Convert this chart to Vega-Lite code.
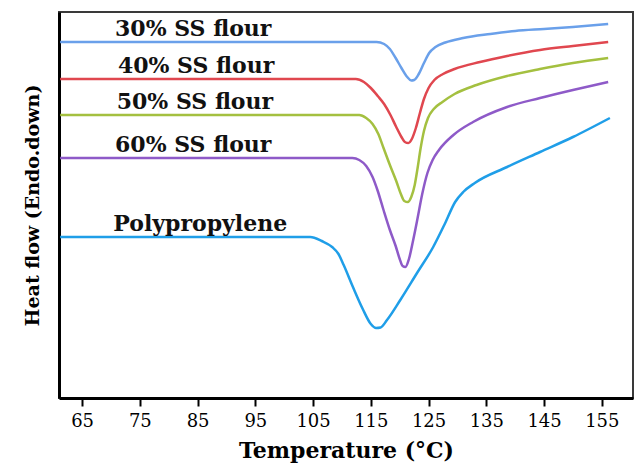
{
  "$schema": "https://vega.github.io/schema/vega-lite/v6.json",
  "width": 574,
  "height": 386,
  "autosize": "none",
  "padding": {"left": 59, "top": 12, "right": 4, "bottom": 77},
  "background": "white",
  "config": {"view": {"stroke": "#3a3a3a", "strokeWidth": 2}, "font": "DejaVu Serif"},
  "datasets": {
    "curves": [
      {"s": "30% SS flour", "t": 61.2, "h": 356}, {"s": "30% SS flour", "t": 116.0, "h": 356}, {"s": "30% SS flour", "t": 117.3, "h": 354}, {"s": "30% SS flour", "t": 118.3, "h": 349}, {"s": "30% SS flour", "t": 119.3, "h": 340}, {"s": "30% SS flour", "t": 120.3, "h": 330}, {"s": "30% SS flour", "t": 121.3, "h": 321}, {"s": "30% SS flour", "t": 122.0, "h": 317.5}, {"s": "30% SS flour", "t": 122.5, "h": 318}, {"s": "30% SS flour", "t": 123.3, "h": 324}, {"s": "30% SS flour", "t": 124.2, "h": 335}, {"s": "30% SS flour", "t": 125.1, "h": 345}, {"s": "30% SS flour", "t": 126.2, "h": 351}, {"s": "30% SS flour", "t": 127.9, "h": 355.5}, {"s": "30% SS flour", "t": 131.0, "h": 360}, {"s": "30% SS flour", "t": 135.7, "h": 364}, {"s": "30% SS flour", "t": 140.0, "h": 367}, {"s": "30% SS flour", "t": 145.0, "h": 369}, {"s": "30% SS flour", "t": 150.0, "h": 371}, {"s": "30% SS flour", "t": 156.1, "h": 374},
      {"s": "40% SS flour", "t": 61.2, "h": 319}, {"s": "40% SS flour", "t": 112.4, "h": 319}, {"s": "40% SS flour", "t": 113.8, "h": 316}, {"s": "40% SS flour", "t": 115.0, "h": 310}, {"s": "40% SS flour", "t": 116.2, "h": 302}, {"s": "40% SS flour", "t": 117.3, "h": 294}, {"s": "40% SS flour", "t": 118.4, "h": 283}, {"s": "40% SS flour", "t": 119.4, "h": 271}, {"s": "40% SS flour", "t": 120.3, "h": 261}, {"s": "40% SS flour", "t": 120.9, "h": 256}, {"s": "40% SS flour", "t": 121.5, "h": 255}, {"s": "40% SS flour", "t": 122.1, "h": 259}, {"s": "40% SS flour", "t": 122.8, "h": 270}, {"s": "40% SS flour", "t": 123.5, "h": 285}, {"s": "40% SS flour", "t": 124.2, "h": 299}, {"s": "40% SS flour", "t": 125.0, "h": 310}, {"s": "40% SS flour", "t": 126.0, "h": 318}, {"s": "40% SS flour", "t": 127.5, "h": 324}, {"s": "40% SS flour", "t": 129.5, "h": 329}, {"s": "40% SS flour", "t": 133.9, "h": 336}, {"s": "40% SS flour", "t": 138.6, "h": 342}, {"s": "40% SS flour", "t": 144.3, "h": 348}, {"s": "40% SS flour", "t": 150.0, "h": 352}, {"s": "40% SS flour", "t": 156.1, "h": 356},
      {"s": "50% SS flour", "t": 61.2, "h": 283}, {"s": "50% SS flour", "t": 113.0, "h": 283}, {"s": "50% SS flour", "t": 114.2, "h": 280}, {"s": "50% SS flour", "t": 115.3, "h": 274}, {"s": "50% SS flour", "t": 116.3, "h": 264}, {"s": "50% SS flour", "t": 117.2, "h": 250}, {"s": "50% SS flour", "t": 118.3, "h": 233}, {"s": "50% SS flour", "t": 119.4, "h": 217}, {"s": "50% SS flour", "t": 120.2, "h": 204}, {"s": "50% SS flour", "t": 120.8, "h": 197}, {"s": "50% SS flour", "t": 121.4, "h": 196}, {"s": "50% SS flour", "t": 122.0, "h": 201}, {"s": "50% SS flour", "t": 122.6, "h": 213}, {"s": "50% SS flour", "t": 123.1, "h": 230}, {"s": "50% SS flour", "t": 123.6, "h": 249}, {"s": "50% SS flour", "t": 124.2, "h": 267}, {"s": "50% SS flour", "t": 124.9, "h": 280}, {"s": "50% SS flour", "t": 125.9, "h": 289}, {"s": "50% SS flour", "t": 127.4, "h": 296}, {"s": "50% SS flour", "t": 129.5, "h": 304}, {"s": "50% SS flour", "t": 133.3, "h": 313}, {"s": "50% SS flour", "t": 138.6, "h": 322}, {"s": "50% SS flour", "t": 144.3, "h": 329}, {"s": "50% SS flour", "t": 150.0, "h": 335}, {"s": "50% SS flour", "t": 156.1, "h": 340},
      {"s": "60% SS flour", "t": 61.2, "h": 240}, {"s": "60% SS flour", "t": 111.8, "h": 240}, {"s": "60% SS flour", "t": 113.0, "h": 238}, {"s": "60% SS flour", "t": 114.2, "h": 232}, {"s": "60% SS flour", "t": 115.3, "h": 221}, {"s": "60% SS flour", "t": 116.2, "h": 207}, {"s": "60% SS flour", "t": 117.2, "h": 188}, {"s": "60% SS flour", "t": 118.3, "h": 168}, {"s": "60% SS flour", "t": 119.3, "h": 152}, {"s": "60% SS flour", "t": 120.0, "h": 139}, {"s": "60% SS flour", "t": 120.5, "h": 132}, {"s": "60% SS flour", "t": 121.0, "h": 131}, {"s": "60% SS flour", "t": 121.6, "h": 139}, {"s": "60% SS flour", "t": 122.3, "h": 157}, {"s": "60% SS flour", "t": 123.1, "h": 180}, {"s": "60% SS flour", "t": 123.9, "h": 204}, {"s": "60% SS flour", "t": 124.8, "h": 225}, {"s": "60% SS flour", "t": 125.7, "h": 238}, {"s": "60% SS flour", "t": 126.8, "h": 248}, {"s": "60% SS flour", "t": 129.3, "h": 263}, {"s": "60% SS flour", "t": 132.7, "h": 276}, {"s": "60% SS flour", "t": 138.6, "h": 291}, {"s": "60% SS flour", "t": 144.3, "h": 300}, {"s": "60% SS flour", "t": 150.0, "h": 308}, {"s": "60% SS flour", "t": 156.1, "h": 316},
      {"s": "Polypropylene", "t": 61.2, "h": 161}, {"s": "Polypropylene", "t": 104.5, "h": 161}, {"s": "Polypropylene", "t": 106.5, "h": 157}, {"s": "Polypropylene", "t": 108.3, "h": 151}, {"s": "Polypropylene", "t": 109.4, "h": 144}, {"s": "Polypropylene", "t": 110.3, "h": 133}, {"s": "Polypropylene", "t": 111.9, "h": 111}, {"s": "Polypropylene", "t": 113.6, "h": 89}, {"s": "Polypropylene", "t": 115.0, "h": 74}, {"s": "Polypropylene", "t": 115.9, "h": 70}, {"s": "Polypropylene", "t": 116.7, "h": 70.5}, {"s": "Polypropylene", "t": 117.8, "h": 78}, {"s": "Polypropylene", "t": 120.1, "h": 98}, {"s": "Polypropylene", "t": 123.0, "h": 125}, {"s": "Polypropylene", "t": 125.8, "h": 151}, {"s": "Polypropylene", "t": 127.8, "h": 174}, {"s": "Polypropylene", "t": 129.6, "h": 196}, {"s": "Polypropylene", "t": 131.0, "h": 206}, {"s": "Polypropylene", "t": 133.0, "h": 215}, {"s": "Polypropylene", "t": 138.6, "h": 231}, {"s": "Polypropylene", "t": 144.3, "h": 246}, {"s": "Polypropylene", "t": 150.0, "h": 261}, {"s": "Polypropylene", "t": 156.4, "h": 280}
    ],
    "labels": [
      {"s": "30% SS flour", "t": 70.7, "h": 356},
      {"s": "40% SS flour", "t": 71.2, "h": 319},
      {"s": "50% SS flour", "t": 71.0, "h": 283},
      {"s": "60% SS flour", "t": 70.7, "h": 240},
      {"s": "Polypropylene", "t": 70.4, "h": 161}
    ]
  },
  "layer": [
    {
      "data": {"name": "curves"},
      "mark": {"type": "line", "strokeWidth": 2.5, "interpolate": "monotone"},
      "encoding": {
        "x": {
          "field": "t", "type": "quantitative",
          "scale": {"domain": [61, 160.4], "nice": false, "zero": false},
          "axis": {
            "title": "Temperature (°C)",
            "values": [65, 70, 75, 80, 85, 90, 95, 100, 105, 110, 115, 120, 125, 130, 135, 140, 145, 150, 155],
            "labelExpr": "(datum.value - 65) % 10 == 0 ? datum.label : ''",
            "grid": false,
            "domainColor": "#000", "domainWidth": 3,
            "tickColor": "#000", "tickWidth": 2, "tickSize": 8,
            "labelFont": "DejaVu Serif", "labelFontSize": 18, "labelColor": "#000", "labelPadding": 6,
            "labelOverlap": false,
            "titleFont": "DejaVu Serif", "titleFontSize": 22, "titleFontWeight": "bold", "titleColor": "#000", "titlePadding": 10
          }
        },
        "y": {
          "field": "h", "type": "quantitative",
          "scale": {"domain": [0, 386], "nice": false, "zero": false},
          "axis": {
            "title": "Heat flow (Endo.down)",
            "ticks": false, "labels": false, "grid": false,
            "domainColor": "#000", "domainWidth": 3,
            "titleFont": "DejaVu Serif", "titleFontSize": 19, "titleFontWeight": "bold", "titleColor": "#000", "titlePadding": 17
          }
        },
        "color": {
          "field": "s", "type": "nominal",
          "scale": {
            "domain": ["30% SS flour", "40% SS flour", "50% SS flour", "60% SS flour", "Polypropylene"],
            "range": ["#6aa0ea", "#e0474f", "#a4c040", "#8e5ac8", "#1f9ee8"]
          },
          "legend": null
        }
      }
    },
    {
      "data": {"name": "labels"},
      "mark": {"type": "text", "align": "left", "baseline": "alphabetic", "dy": -6, "font": "DejaVu Serif", "fontWeight": "bold", "fontSize": 22, "color": "#111"},
      "encoding": {
        "x": {"field": "t", "type": "quantitative"},
        "y": {"field": "h", "type": "quantitative"},
        "text": {"field": "s"}
      }
    }
  ]
}
